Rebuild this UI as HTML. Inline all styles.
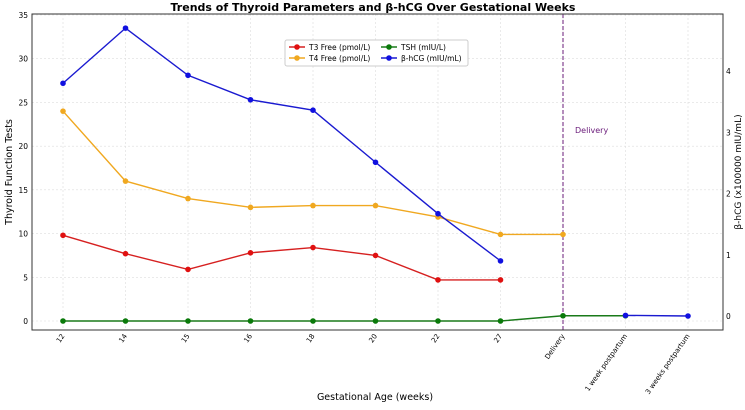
<!DOCTYPE html>
<html><head><meta charset="utf-8"><style>
body{margin:0;background:#fff;}
svg{font-family:"DejaVu Sans","Liberation Sans",sans-serif;}
</style></head><body>
<svg id="c" width="745" height="405" viewBox="0 0 745 405">
<text x="373" y="11" text-anchor="middle" font-size="11" font-weight="bold">Trends of Thyroid Parameters and β-hCG Over Gestational Weeks</text>
<g id="grid"></g>
<g id="axes"></g>
<g id="series"></g>
<rect x="32" y="14" width="691" height="316" fill="none" stroke="#333" stroke-width="1"/>
<text x="12" y="172" transform="rotate(-90 12 172)" text-anchor="middle" font-size="9.5">Thyroid Function Tests</text>
<text x="741" y="172" transform="rotate(-90 741 172)" text-anchor="middle" font-size="9">β-hCG (x100000 mIU/mL)</text>
<text x="375" y="400" text-anchor="middle" font-size="9.5">Gestational Age (weeks)</text>
<text x="575" y="133" font-size="8" fill="#6a1b7a">Delivery</text>
<g>
<rect x="285" y="40" width="183" height="26" fill="#fff" stroke="#ccc" rx="2"/>
<line x1="289" y1="47" x2="305" y2="47" stroke="#d62020" stroke-width="1.5"/><circle cx="297" cy="47" r="2.8" fill="#e01010"/>
<text x="309" y="50" font-size="7.5">T3 Free (pmol/L)</text>
<line x1="289" y1="58" x2="305" y2="58" stroke="#f0a820" stroke-width="1.5"/><circle cx="297" cy="58" r="2.8" fill="#f0a820"/>
<text x="309" y="61" font-size="7.5">T4 Free (pmol/L)</text>
<line x1="381" y1="47" x2="397" y2="47" stroke="#1a7a1a" stroke-width="1.5"/><circle cx="389" cy="47" r="2.8" fill="#0a7a0a"/>
<text x="401" y="50" font-size="7.5">TSH (mIU/L)</text>
<line x1="381" y1="58" x2="397" y2="58" stroke="#1a1ad0" stroke-width="1.5"/><circle cx="389" cy="58" r="2.8" fill="#1010e0"/>
<text x="401" y="61" font-size="7.5">β-hCG (mIU/mL)</text>
</g>
</svg>
<script>
const categories=["12","14","15","16","18","20","22","27","Delivery","1 week postpartum","3 weeks postpartum"];
const t3=[9.8,7.7,5.9,7.8,8.4,7.5,4.7,4.7,null,null,null];
const t4=[24,16,14,13,13.2,13.2,11.9,9.9,9.9,null,null];
const tsh=[0,0,0,0,0,0,0,0,0.6,0.6,null];
const hcg=[3.8,4.7,3.93,3.53,3.36,2.51,1.67,0.9,null,0.01,0.0];
const yTicks=[0,5,10,15,20,25,30,35];
const y2Ticks=[0,1,2,3,4];
const deliveryIndex=8;
const NS="http://www.w3.org/2000/svg";
const X=i=>63+i*62.5;
const Y=v=>321-v*8.743;
const Y2=v=>316-v*61.25;
function mk(tag,a,parent){const e=document.createElementNS(NS,tag);for(const k in a)e.setAttribute(k,a[k]);document.getElementById(parent).appendChild(e);return e;}
yTicks.forEach(v=>{
 const g=mk('line',{x1:32,x2:723,y1:Y(v),y2:Y(v),stroke:'#ddd','stroke-width':0.6,'stroke-dasharray':'2,2'},'grid');
 
 
 const t=mk('text',{x:28,y:Y(v)+3,'text-anchor':'end','font-size':7.5},'axes');t.textContent=v;
 
 
});
y2Ticks.forEach(v=>{
 const t=mk('text',{x:726,y:Y2(v)+3,'font-size':7.5},'axes');t.textContent=v;
 
 
});
categories.forEach((c,i)=>{
 const g=mk('line',{x1:X(i),x2:X(i),y1:14,y2:330,stroke:'#ddd','stroke-width':0.6,'stroke-dasharray':'2,2'},'grid');
 
 
 const t=mk('text',{x:X(i)+2,y:336,'text-anchor':'end','font-size':7,transform:`rotate(-55 ${X(i)+2} 336)`},'axes');t.textContent=c;
 
 
});
const dl=mk('line',{x1:X(deliveryIndex),x2:X(deliveryIndex),y1:14,y2:330,stroke:'#6a1b7a','stroke-width':1,'stroke-dasharray':'4,2'},'series');


function series(arr,yf,line,dot,name){
 let segs=[],cur=[];
 arr.forEach((v,i)=>{if(v===null){if(cur.length)segs.push(cur);cur=[];}else cur.push([X(i),yf(v)]);});
 if(cur.length)segs.push(cur);
 segs.forEach(s=>{const p=mk('polyline',{points:s.map(q=>q.join(',')).join(' '),fill:'none',stroke:line,'stroke-width':1.4},'series');
  
  });
 arr.forEach((v,i)=>{if(v===null)return;const c=mk('circle',{cx:X(i),cy:yf(v),r:2.8,fill:dot},'series');
  
  });
}
series(tsh,Y,'#1a7a1a','#0a7a0a','tsh');
series(t4,Y,'#f0a820','#f0a820','t4');
series(t3,Y,'#d62020','#e01010','t3');
series(hcg,Y2,'#1a1ad0','#1010e0','hcg');
</script>
</body></html>
